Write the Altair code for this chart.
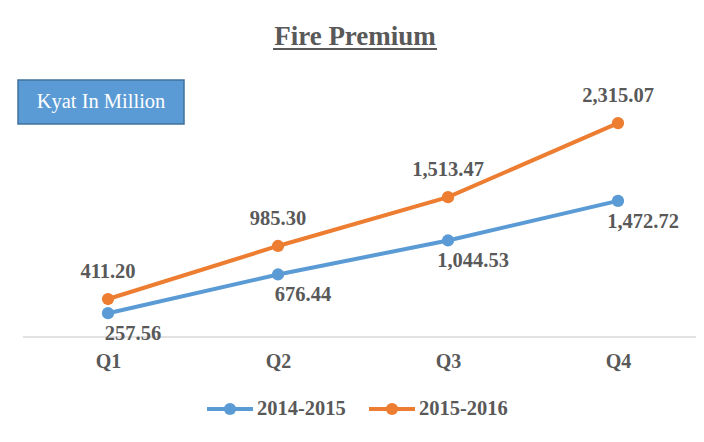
import altair as alt
import pandas as pd

quarters = ["Q1", "Q2", "Q3", "Q4"]
series_names = ["2014-2015", "2015-2016"]
values_2014 = [257.56, 676.44, 1044.53, 1472.72]
values_2015 = [411.20, 985.30, 1513.47, 2315.07]
colors = ["#5B9BD5", "#ED7D31"]

rows = []
for q, v in zip(quarters, values_2014):
    rows.append({"quarter": q, "series": series_names[0], "value": v})
for q, v in zip(quarters, values_2015):
    rows.append({"quarter": q, "series": series_names[1], "value": v})
df = pd.DataFrame(rows)

FONT = "Liberation Serif"
GRAY = "#595959"
W, H = 673, 231

x_enc = alt.X("quarter:N", sort=quarters, scale=alt.Scale(type="point", padding=0, range=[85, 595]),
              axis=alt.Axis(title=None, labelAngle=0, ticks=False, domain=False, grid=False,
                            labelFont=FONT, labelFontSize=20,
                            labelFontWeight="bold", labelColor=GRAY, labelPadding=14))
y_enc = alt.Y("value:Q", scale=alt.Scale(domain=[0, 2500], nice=False), axis=None)
color_enc = alt.Color("series:N", scale=alt.Scale(domain=series_names, range=colors), legend=None)

base = alt.Chart(df)
lines = base.mark_line(strokeWidth=4).encode(x=x_enc, y=y_enc, color=color_enc)
points = base.mark_circle(size=150, opacity=1).encode(x=x_enc, y=y_enc, color=color_enc)

lab_style = dict(font=FONT, fontSize=20.5, fontWeight="bold", color=GRAY, baseline="middle")
lab_top = base.transform_filter(alt.datum.series == series_names[1]).mark_text(dy=-27, **lab_style).encode(
    x=x_enc, y=y_enc, text=alt.Text("value:Q", format=",.2f"))
lab_bot = base.transform_filter(alt.datum.series == series_names[0]).mark_text(dy=21, dx=25, **lab_style).encode(
    x=x_enc, y=y_enc, text=alt.Text("value:Q", format=",.2f"))

ann = pd.DataFrame({"a": [0]})
abase = alt.Chart(ann)
axis_line = abase.mark_rule(color="#D9D9D9", strokeWidth=1.5).encode(
    x=alt.value(0), x2=alt.value(W), y=alt.value(H))
title = abase.mark_text(text="Fire Premium", font=FONT, fontSize=27, fontWeight="bold",
                        color=GRAY, baseline="middle").encode(x=alt.value(332), y=alt.value(-69))
underline = abase.mark_rule(color=GRAY, strokeWidth=2).encode(
    x=alt.value(250), x2=alt.value(414), y=alt.value(-57))
box = abase.mark_rect(fill="#5B9BD5", stroke="#41719C", strokeWidth=1.5).encode(
    x=alt.value(-5), x2=alt.value(161), y=alt.value(-26), y2=alt.value(18))
box_text = abase.mark_text(text="Kyat In Million", font=FONT, fontSize=20.5, color="white",
                           baseline="middle").encode(x=alt.value(78), y=alt.value(-4))

leg_y = 303
leg = []
for name, col, x0 in zip(series_names, colors, [184, 346]):
    leg.append(abase.mark_rule(color=col, strokeWidth=4).encode(
        x=alt.value(x0), x2=alt.value(x0 + 46), y=alt.value(leg_y)))
    leg.append(abase.mark_circle(color=col, size=150, opacity=1).encode(
        x=alt.value(x0 + 23), y=alt.value(leg_y)))
    leg.append(abase.mark_text(text=name, font=FONT, fontSize=20.5, fontWeight="bold", color=GRAY,
                               align="left", baseline="middle").encode(
        x=alt.value(x0 + 50), y=alt.value(leg_y)))

chart = alt.layer(axis_line, lines, points, lab_top, lab_bot, title, underline, box, box_text, *leg).properties(
    width=W, height=H,
    autosize=alt.AutoSizeParams(type="none"),
    padding={"left": 15, "top": 98, "right": 0, "bottom": 92},
    background="white",
).configure_view(stroke=None)

chart.save("out.html", embed_options={"renderer": "svg", "actions": False})
